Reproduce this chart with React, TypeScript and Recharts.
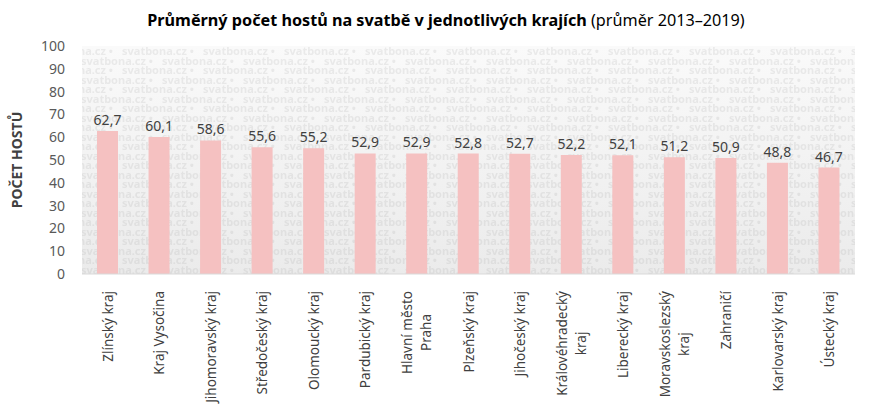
import { BarChart, Bar, XAxis, YAxis, CartesianGrid, LabelList } from 'recharts';

const regions = [
  'Zlínský kraj',
  'Kraj Vysočina',
  'Jihomoravský kraj',
  'Středočeský kraj',
  'Olomoucký kraj',
  'Pardubický kraj',
  'Hlavní město\nPraha',
  'Plzeňský kraj',
  'Jihočeský kraj',
  'Královéhradecký\nkraj',
  'Liberecký kraj',
  'Moravskoslezský\nkraj',
  'Zahraničí',
  'Karlovarský kraj',
  'Ústecký kraj',
];
const guests = [62.7, 60.1, 58.6, 55.6, 55.2, 52.9, 52.9, 52.8, 52.7, 52.2, 52.1, 51.2, 50.9, 48.8, 46.7];
const yTicks = [0, 10, 20, 30, 40, 50, 60, 70, 80, 90, 100];

const data = regions.map((region, i) => ({ region, guests: guests[i] }));

const FONT = '"Noto Sans", "Open Sans", sans-serif';
const TEXT = '#404040';

let canvasCtx: CanvasRenderingContext2D | null = null;
const measure = (s: string, font: string) => {
  if (!canvasCtx) canvasCtx = document.createElement('canvas').getContext('2d');
  if (!canvasCtx) return s.length * 7;
  canvasCtx.font = font;
  return canvasCtx.measureText(s).width;
};

// rotated category labels; a wrapped second line is centred on the first one
const RegionTick = (props: any) => {
  const { x, y, payload } = props;
  const lines = String(payload.value).split('\n');
  const font = `13.5px ${FONT}`;
  const widths = lines.map((l) => measure(l, font));
  const maxW = Math.max(...widths);
  const lineH = 19;
  return (
    <g transform={`translate(${x},${y + 9}) rotate(-90)`}>
      {lines.map((l, i) => (
        <text
          key={i}
          x={widths[i] === maxW ? 0 : -maxW / 2}
          y={(i - (lines.length - 1) / 2) * lineH}
          textAnchor={widths[i] === maxW ? 'end' : 'middle'}
          dominantBaseline="central"
          fontFamily={FONT}
          fontSize={13.5}
          fill={TEXT}
        >
          {l}
        </text>
      ))}
    </g>
  );
};

export default function App() {
  return (
    <div style={{ position: 'absolute', left: 0, top: 0, width: 889, height: 416, background: '#fff' }}>
      <svg width={889} height={416} style={{ position: 'absolute', left: 0, top: 0 }}>
        <text x={446} y={26} textAnchor="middle" fontFamily={FONT} fontSize={16.2} fill="#000">
          <tspan fontWeight="bold">Průměrný počet hostů na svatbě v jednotlivých krajích</tspan>
          <tspan> (průměr 2013–2019)</tspan>
        </text>
        <text
          transform="translate(16,160) rotate(-90)"
          textAnchor="middle"
          dominantBaseline="central"
          fontFamily={FONT}
          fontSize={14}
          fontWeight="bold"
          fill={TEXT}
        >
          POČET HOSTŮ
        </text>
      </svg>
      <div style={{ position: 'absolute', left: 0, top: 0 }}>
        <BarChart
          width={889}
          height={416}
          data={data}
          margin={{ top: 46, right: 34, left: 30, bottom: 0 }}
          barSize={21}
        >
          <defs>
            <linearGradient id="bgGrad" x1="0" y1="0" x2="0" y2="1">
              <stop offset="0%" stopColor="#fafafa" />
              <stop offset="100%" stopColor="#ebebeb" />
            </linearGradient>
            <pattern id="wm" width={81} height={19} patternUnits="userSpaceOnUse">
              {[0, 1].map((row) =>
                [-81, 0, 81].map((dx) => (
                  <text
                    key={`${row}-${dx}`}
                    x={dx + (row ? -40 : 0)}
                    y={row ? 17 : 7.5}
                    fontFamily={FONT}
                    fontSize={11}
                    fontWeight="bold"
                    fill="#8a8a8a"
                    fillOpacity={0.15}
                  >
                    svatbona.cz •
                  </text>
                ))
              )}
            </pattern>
          </defs>
          <CartesianGrid horizontal={false} vertical={false} fill="url(#bgGrad)" />
          <CartesianGrid horizontal={false} vertical={false} fill="url(#wm)" />
          <XAxis
            dataKey="region"
            interval={0}
            tick={<RegionTick />}
            tickLine={false}
            axisLine={{ stroke: '#d9d9d9', strokeWidth: 1 }}
            height={142}
          />
          <YAxis
            domain={[0, 100]}
            ticks={yTicks}
            interval={0}
            tickLine={false}
            axisLine={false}
            width={52}
            tickMargin={11}
            tick={{ fontFamily: FONT, fontSize: 14, fill: '#595959' }}
          />
          <Bar dataKey="guests" fill="#f5c1c1" isAnimationActive={false}>
            <LabelList
              dataKey="guests"
              position="top"
              offset={6}
              formatter={(v: any) => String(v).replace('.', ',')}
              style={{ fontFamily: FONT, fontSize: 14, fill: TEXT }}
            />
          </Bar>
        </BarChart>
      </div>
    </div>
  );
}
